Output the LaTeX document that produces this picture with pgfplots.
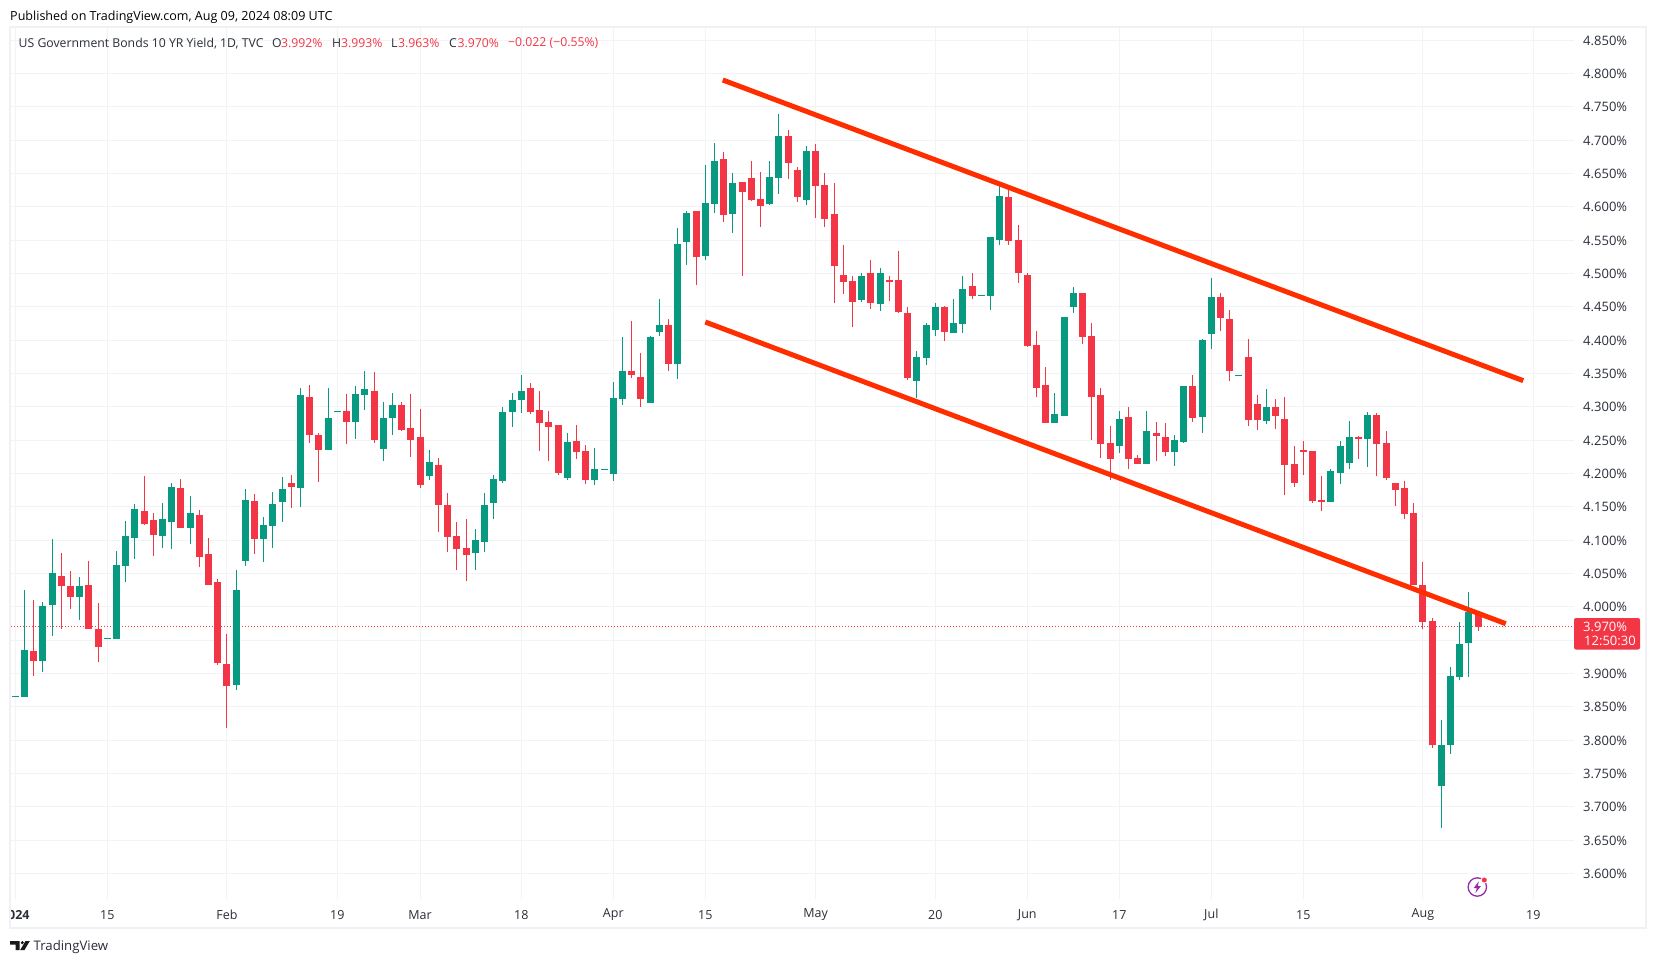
\documentclass[border=0pt]{standalone}
\usepackage{fontspec}
\setmainfont{Open Sans}
\usepackage{pgfplots}
\usepackage{pgfplotstable}
\pgfplotsset{compat=1.18}
\definecolor{upc}{HTML}{089981}
\definecolor{dnc}{HTML}{F23645}
\definecolor{trend}{HTML}{FF2E00}
\definecolor{gridc}{HTML}{F2F3F5}
\definecolor{framec}{HTML}{F0F0F5}
\definecolor{txt}{HTML}{2A2E39}
\definecolor{evt}{HTML}{9C27B0}

% i, body top, body bottom, high, low
\pgfplotstableread{
i t b h l
0 3.8663 3.8648 3.8663 3.8648
1 3.935 3.865 4.025 3.865
3 4.001 3.919 4.007 3.902
4 4.0505 4.0025 4.1015 3.956
7 4.031 4.0145 4.0445 3.98
10 3.9533 3.9518 3.9533 3.9518
11 4.0625 3.9515 4.0835 3.9515
12 4.106 4.061 4.1285 4.037
13 4.1465 4.103 4.154 4.0715
16 4.1315 4.106 4.1555 4.088
17 4.1795 4.127 4.1855 4.0865
19 4.1405 4.118 4.166 4.094
24 4.025 3.8825 4.055 3.875
25 4.16 4.0685 4.1765 4.061
27 4.1225 4.1015 4.1345 4.067
28 4.154 4.121 4.172 4.088
29 4.1765 4.157 4.1945 4.127
31 4.3175 4.178 4.328 4.1495
34 4.283 4.235 4.328 4.235
35 4.2938 4.2923 4.2938 4.2923
37 4.319 4.277 4.331 4.2515
38 4.3265 4.3175 4.3535 4.295
40 4.283 4.2365 4.307 4.2185
41 4.3025 4.283 4.3205 4.2575
45 4.217 4.196 4.235 4.19
50 4.1 4.0805 4.1165 4.055
51 4.1525 4.097 4.1705 4.082
52 4.1915 4.1555 4.1975 4.1315
53 4.292 4.1885 4.2995 4.1855
54 4.31 4.292 4.3205 4.2695
55 4.3235 4.31 4.3475 4.2905
60 4.247 4.193 4.2605 4.19
63 4.2065 4.19 4.238 4.1825
64 4.2068 4.2053 4.2068 4.2053
65 4.313 4.199 4.337 4.1885
66 4.3535 4.3115 4.4045 4.3025
69 4.4045 4.3055 4.406 4.3055
70 4.4225 4.412 4.4615 4.406
72 4.544 4.364 4.568 4.3415
73 4.5905 4.547 4.5935 4.5125
75 4.6055 4.526 4.6625 4.52
76 4.6685 4.604 4.6955 4.5905
78 4.6355 4.589 4.6505 4.5605
82 4.6445 4.604 4.6685 4.6025
83 4.706 4.643 4.739 4.619
86 4.6835 4.61 4.691 4.6025
92 4.496 4.46 4.5005 4.457
94 4.5005 4.454 4.508 4.4435
98 4.3745 4.3385 4.3835 4.313
99 4.4225 4.373 4.4255 4.3625
100 4.4495 4.415 4.4555 4.406
102 4.4255 4.4105 4.4615 4.4105
103 4.4765 4.424 4.496 4.4105
105 4.4678 4.4663 4.4678 4.4663
106 4.5545 4.466 4.5545 4.445
107 4.616 4.55 4.631 4.5425
113 4.289 4.2755 4.3205 4.2755
114 4.4345 4.286 4.4345 4.286
115 4.4705 4.4495 4.4795 4.4405
120 4.2815 4.241 4.2935 4.2305
123 4.2635 4.214 4.2935 4.214
126 4.25 4.232 4.2575 4.211
127 4.331 4.247 4.331 4.2455
129 4.4 4.2845 4.4015 4.2605
130 4.4645 4.409 4.493 4.3865
133 4.3478 4.3463 4.3478 4.3463
136 4.2995 4.2785 4.3265 4.274
143 4.2035 4.157 4.2065 4.157
144 4.241 4.2005 4.2485 4.184
145 4.2545 4.2155 4.2785 4.2065
147 4.2875 4.2515 4.292 4.2095
155 3.7925 3.731 3.83 3.668
156 3.896 3.7925 3.9095 3.779
157 3.944 3.8945 3.977 3.89
158 3.992 3.9455 4.022 3.8945
}\upbars

\pgfplotstableread{
i t b h l
2 3.9335 3.919 4.01 3.896
5 4.046 4.031 4.0805 3.9665
6 4.031 4.0145 4.0535 3.9965
8 4.0325 3.9665 4.0685 3.9665
9 3.9665 3.9395 4.0055 3.917
14 4.1435 4.124 4.196 4.1225
15 4.13 4.1075 4.1405 4.076
18 4.178 4.118 4.1915 4.118
20 4.1375 4.0745 4.145 4.0595
21 4.079 4.0325 4.103 4.0325
22 4.037 3.9155 4.0415 3.9125
23 3.914 3.881 3.959 3.818
26 4.1585 4.1015 4.169 4.079
30 4.1855 4.1795 4.1975 4.148
32 4.3145 4.2575 4.3325 4.2455
33 4.2575 4.235 4.2605 4.187
36 4.2935 4.277 4.319 4.244
39 4.3235 4.25 4.352 4.2455
42 4.3025 4.265 4.307 4.2635
43 4.268 4.25 4.319 4.2245
44 4.2545 4.1825 4.2965 4.178
46 4.2125 4.1525 4.223 4.112
47 4.1525 4.1045 4.1705 4.082
48 4.106 4.0865 4.127 4.055
49 4.088 4.0775 4.1315 4.0385
56 4.328 4.292 4.3355 4.289
57 4.295 4.2755 4.3235 4.2335
58 4.277 4.2695 4.2935 4.2185
59 4.2725 4.2005 4.2725 4.1975
61 4.2485 4.232 4.2725 4.2215
62 4.2335 4.19 4.2425 4.184
67 4.3535 4.3475 4.4285 4.343
68 4.3445 4.3115 4.3805 4.2995
71 4.4225 4.364 4.4315 4.3535
74 4.5935 4.5245 4.5935 4.4825
77 4.6715 4.5875 4.682 4.577
79 4.637 4.622 4.637 4.496
80 4.643 4.61 4.6685 4.6085
81 4.6115 4.601 4.652 4.5695
84 4.706 4.6655 4.715 4.6415
85 4.655 4.6145 4.6595 4.607
87 4.6835 4.631 4.694 4.583
88 4.6325 4.5815 4.6505 4.5695
89 4.589 4.511 4.6355 4.4555
90 4.4975 4.487 4.5425 4.469
91 4.4885 4.457 4.496 4.4195
93 4.5005 4.4555 4.52 4.4465
95 4.49 4.487 4.496 4.4585
96 4.49 4.442 4.5335 4.4405
97 4.4405 4.343 4.4495 4.34
101 4.4495 4.412 4.451 4.3985
104 4.481 4.466 4.5005 4.4615
108 4.6145 4.5485 4.625 4.5425
109 4.55 4.5005 4.5725 4.4855
110 4.4975 4.391 4.5005 4.3895
111 4.3925 4.328 4.4135 4.3145
112 4.3325 4.2755 4.3595 4.2755
116 4.4705 4.4045 4.4705 4.394
117 4.406 4.3145 4.4255 4.25
118 4.3175 4.244 4.328 4.223
119 4.2455 4.2215 4.271 4.19
121 4.2845 4.2215 4.2995 4.2065
122 4.223 4.214 4.2275 4.214
124 4.2605 4.256 4.277 4.2185
125 4.2545 4.232 4.2755 4.226
128 4.331 4.283 4.3475 4.277
131 4.4645 4.433 4.4705 4.4135
132 4.4315 4.3535 4.445 4.3385
134 4.3745 4.28 4.4015 4.271
135 4.304 4.28 4.3175 4.265
137 4.2995 4.286 4.3115 4.2665
138 4.2815 4.2125 4.3145 4.1675
139 4.214 4.1855 4.241 4.1795
140 4.235 4.232 4.2485 4.1975
141 4.2335 4.1585 4.2335 4.1555
142 4.16 4.1585 4.196 4.1435
146 4.2545 4.253 4.256 4.2215
148 4.2875 4.244 4.2905 4.196
149 4.2455 4.193 4.2635 4.19
150 4.1855 4.175 4.1855 4.151
151 4.178 4.139 4.1885 4.1315
152 4.1405 4.0325 4.1555 4.0325
153 4.0325 3.977 4.067 3.9665
154 3.9785 3.7925 3.983 3.788
159 3.992 3.9695 3.993 3.9635
}\dnbars

\begin{document}
\begin{tikzpicture}[x=1pt,y=-1pt]
\path[fill=white] (0,0) rectangle (1656,962);
\begin{axis}[
    at={(11pt,-899pt)}, anchor=south west,
    width=1563pt, height=872pt, scale only axis,
    xmin=-0.467, xmax=169.42, ymin=3.5615, ymax=4.8695,
    axis line style={draw=none},
    tick style={draw=none},
    grid=major,
    grid style={gridc, line width=1pt},
    xtick={0,10,23,35,44,55,65,75,87,100,110,120,130,140,153,165},
    xticklabels={\textbf{2024},15,Feb,19,Mar,18,Apr,15,May,20,Jun,17,Jul,15,Aug,19},
    xticklabel style={font=\fontsize{12.5}{14}\selectfont, text=txt, anchor=center, yshift=-16pt},
    ytick={3.6,3.65,3.7,3.75,3.8,3.85,3.9,4.0,4.05,4.1,4.15,4.2,4.25,4.3,4.35,4.4,4.45,4.5,4.55,4.6,4.65,4.7,4.75,4.8,4.85},
    extra y ticks={3.95}, extra y tick labels={},
    extra y tick style={grid=major},
    yticklabel pos=right,
    yticklabel style={font=\fontsize{13}{15}\selectfont, text=txt, anchor=west, xshift=5.7pt, yshift=-0.6pt},
    yticklabel={\pgfmathprintnumber[fixed,fixed zerofill,precision=3,assume math mode=true]{\tick}\%},
    clip=true,
]
% last price line
\addplot[dnc, line width=1pt, dash pattern=on 1pt off 2pt, forget plot] coordinates {(-0.467,3.97)(169.42,3.97)};
% wicks
\addplot[draw=none, no marks, forget plot, error bars/.cd, y dir=both, y explicit, error mark=none, error bar style={draw=upc, line width=1.1pt, solid}]
    table[x=i, y expr=(\thisrow{h}+\thisrow{l})/2, y error expr=(\thisrow{h}-\thisrow{l})/2] {\upbars};
\addplot[draw=none, no marks, forget plot, error bars/.cd, y dir=both, y explicit, error mark=none, error bar style={draw=dnc, line width=1.1pt, solid}]
    table[x=i, y expr=(\thisrow{h}+\thisrow{l})/2, y error expr=(\thisrow{h}-\thisrow{l})/2] {\dnbars};
% bodies
\addplot[draw=none, no marks, forget plot, error bars/.cd, y dir=both, y explicit, error mark=none, error bar style={draw=upc, line width=7pt, solid}]
    table[x=i, y expr=(\thisrow{t}+\thisrow{b})/2, y error expr=(\thisrow{t}-\thisrow{b})/2] {\upbars};
\addplot[draw=none, no marks, forget plot, error bars/.cd, y dir=both, y explicit, error mark=none, error bar style={draw=dnc, line width=7pt, solid}]
    table[x=i, y expr=(\thisrow{t}+\thisrow{b})/2, y error expr=(\thisrow{t}-\thisrow{b})/2] {\dnbars};
% channel
\addplot[trend, line width=5pt, forget plot] coordinates {(76.9,4.79)(163.9,4.339)};
\addplot[trend, line width=5pt, forget plot] coordinates {(75,4.427)(162,3.9745)};
\end{axis}
% cut off the first date label and draw the frame
\fill[white] (0,900) rectangle (10,926);
\draw[framec, line width=2pt] (10,26.5) rectangle (1646,927.7);
% price tag
\fill[dnc, rounded corners=2pt] (1574,618) -- (1640,618) -- (1640,649.5) -- (1574,649.5) -- cycle;
\node[anchor=west, white, inner sep=0, font=\fontsize{13}{15}\selectfont] at (1583,627) {3.970\%};
\node[anchor=west, white, inner sep=0, font=\fontsize{13}{15}\selectfont] at (1584,641) {12:50:30};
% header
\node[anchor=west, inner sep=0, text=black, font=\fontsize{12.55}{14}\selectfont] at (10,17) {Published on TradingView.com, Aug 09, 2024 08:09 UTC};
\begin{scope}[every node/.style={anchor=west, inner sep=0, font=\fontsize{12.25}{14}\selectfont}]
\node[text=txt] at (18.5,43.3) {US Government Bonds 10 YR Yield, 1D, TVC};
\node[text=txt] at (272,43.3) {O};
\node[text=dnc] at (281,43.3) {3.992\%};
\node[text=txt] at (332,43.3) {H};
\node[text=dnc] at (341,43.3) {3.993\%};
\node[text=txt] at (391,43.3) {L};
\node[text=dnc] at (398,43.3) {3.963\%};
\node[text=txt] at (449,43.3) {C};
\node[text=dnc] at (457.5,43.3) {3.970\%};
\node[text=dnc] at (508,43.3) {−0.022 (−0.55\%)};
\end{scope}
% logo
\fill[black!90] (10,941) -- (19.5,941) -- (19.5,950) -- (15.5,950) -- (15.5,944.5) -- (10,944.5) -- cycle;
\fill[black!90] (22.3,942.7) circle (1.7);
\fill[black!90] (25.5,941) -- (29.8,941) -- (24.5,950) -- (20.2,950) -- cycle;
\node[anchor=west, inner sep=0, text=txt, font=\fontsize{13.2}{16}\selectfont] at (33.5,947.5) {TradingView};
% event marker
\draw[evt, line width=1.3pt] (1477.3,887) circle (9.2);
\fill[white] (1484.3,880) circle (3.6);
\fill[dnc] (1484.3,880) circle (2.5);
\fill[evt] (1478.8,881.3) -- (1473.6,888.2) -- (1476.8,888.2) -- (1475.4,893) -- (1481,886) -- (1477.7,886) -- cycle;
\pgfresetboundingbox
\useasboundingbox (0,0) rectangle (1656,962);
\end{tikzpicture}
\end{document}
